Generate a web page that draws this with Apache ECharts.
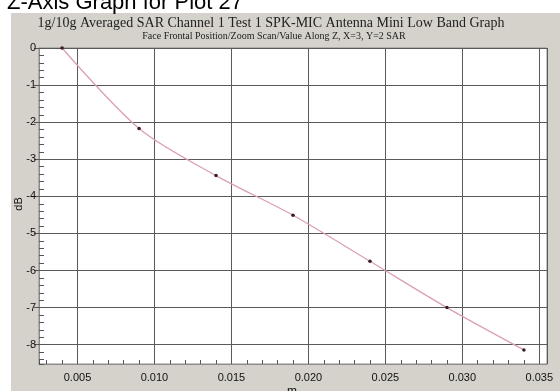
<!DOCTYPE html>
<html>
<head>
<meta charset="utf-8">
<script src="https://cdn.jsdelivr.net/npm/echarts@6/dist/echarts.min.js"></script>
<style>
html,body{margin:0;padding:0;background:#fff;}
#chart{width:560px;height:391px;}
</style>
</head>
<body>
<div id="chart"></div>
<script>
// Data
const zPositions = [0.004, 0.009, 0.014, 0.019, 0.024, 0.029, 0.034];
const dbValues = [0, -2.17, -3.44, -4.51, -5.75, -7.0, -8.14];
const xTickLabels = ['0.005', '0.010', '0.015', '0.020', '0.025', '0.030', '0.035'];
const yTickLabels = ['0', '-1', '-2', '-3', '-4', '-5', '-6', '-7', '-8'];
const pageTitle = 'Z-Axis Graph for Plot 27';
const chartTitle = '1g/10g Averaged SAR Channel 1 Test 1 SPK-MIC Antenna Mini Low Band Graph';
const chartSubtitle = 'Face Frontal Position/Zoom Scan/Value Along Z, X=3, Y=2 SAR';
const xName = 'm';
const yName = 'dB';

const X_MIN = 0.0025, X_MAX = 0.0355;
const Y_MIN = -8.52, Y_MAX = 0;

const chart = echarts.init(document.getElementById('chart'), null, {renderer: 'canvas'});
const labelFont = {fontFamily: 'Liberation Sans', fontSize: 11, color: '#111'};

function fmtX(v) {
  const s = v.toFixed(3);
  return xTickLabels.indexOf(s) >= 0 ? s : '';
}
function fmtY(v) {
  const s = String(Math.round(v));
  return (Math.abs(v - Math.round(v)) < 1e-6 && yTickLabels.indexOf(s) >= 0) ? s : '';
}

const gridBox = {left: 39, top: 48, width: 508, height: 316};

chart.setOption({
  backgroundColor: '#ffffff',
  animation: false,
  graphic: {
    elements: [
      {type: 'rect', z: -100, shape: {x: 11, y: 13, width: 549, height: 378}, style: {fill: '#d5d2cb'}},
      {type: 'text', z: 10, style: {text: pageTitle, x: 7, y: 3, font: '22px "Liberation Sans"', fill: '#000', textAlign: 'left', textVerticalAlign: 'middle'}},
      {type: 'text', z: 10, style: {text: chartTitle, x: 271, y: 23, font: '14px "Liberation Serif"', fill: '#222', textAlign: 'center', textVerticalAlign: 'middle'}},
      {type: 'text', z: 10, style: {text: chartSubtitle, x: 274, y: 36, font: '10px "Liberation Serif"', fill: '#222', textAlign: 'center', textVerticalAlign: 'middle'}},
      {type: 'text', z: 10, rotation: Math.PI / 2, x: 19, y: 204, style: {text: yName, x: 0, y: 0, font: '11px "Liberation Sans"', fill: '#111', textAlign: 'center', textVerticalAlign: 'middle'}},
      {type: 'text', z: 10, style: {text: xName, x: 292, y: 386, font: '12px "Liberation Sans"', fill: '#111', textAlign: 'center', textVerticalAlign: 'top'}}
    ]
  },
  grid: [
    Object.assign({show: true, backgroundColor: '#ffffff', borderColor: '#8c8c8c', borderWidth: 1}, gridBox),
    Object.assign({show: false}, gridBox)
  ],
  xAxis: [
    {
      gridIndex: 0, type: 'value', min: X_MIN, max: X_MAX, splitNumber: 7, position: 'bottom',
      axisLine: {show: true, onZero: false, lineStyle: {color: '#8c8c8c', width: 1}},
      axisTick: {show: false},
      splitLine: {show: true, lineStyle: {color: '#5a5a5a', width: 1}},
      axisLabel: Object.assign({formatter: fmtX, margin: 8, showMinLabel: false, showMaxLabel: false}, labelFont)
    },
    {
      gridIndex: 1, type: 'value', min: X_MIN, max: X_MAX, splitNumber: 33, position: 'bottom',
      axisLine: {show: false, onZero: false},
      axisTick: {show: true, inside: true, length: 4, lineStyle: {color: '#555', width: 1}},
      splitLine: {show: false},
      axisLabel: {show: false}
    }
  ],
  yAxis: [
    {
      gridIndex: 0, type: 'value', min: Y_MIN, max: Y_MAX, splitNumber: 9, position: 'left',
      axisLine: {show: true, onZero: false, lineStyle: {color: '#8c8c8c', width: 1}},
      axisTick: {show: true, inside: false, length: 5, lineStyle: {color: '#555', width: 1}},
      splitLine: {show: true, lineStyle: {color: '#5a5a5a', width: 1}},
      axisLabel: Object.assign({formatter: fmtY, margin: 3, showMinLabel: false}, labelFont)
    },
    {
      gridIndex: 1, type: 'value', min: Y_MIN, max: Y_MAX, splitNumber: 43, position: 'left',
      axisLine: {show: false, onZero: false},
      axisTick: {show: true, inside: true, length: 5, lineStyle: {color: '#555', width: 1}},
      splitLine: {show: false},
      axisLabel: {show: false}
    }
  ],
  series: [
    {
      type: 'line',
      xAxisIndex: 0, yAxisIndex: 0,
      data: zPositions.map((x, i) => [x, dbValues[i]]),
      smooth: 0.3,
      symbol: 'circle', symbolSize: 3.5, showSymbol: true,
      itemStyle: {color: '#3a1a22'},
      lineStyle: {color: '#dba0b2', width: 1.3},
      z: 5
    }
  ]
});
</script>
</body>
</html>
